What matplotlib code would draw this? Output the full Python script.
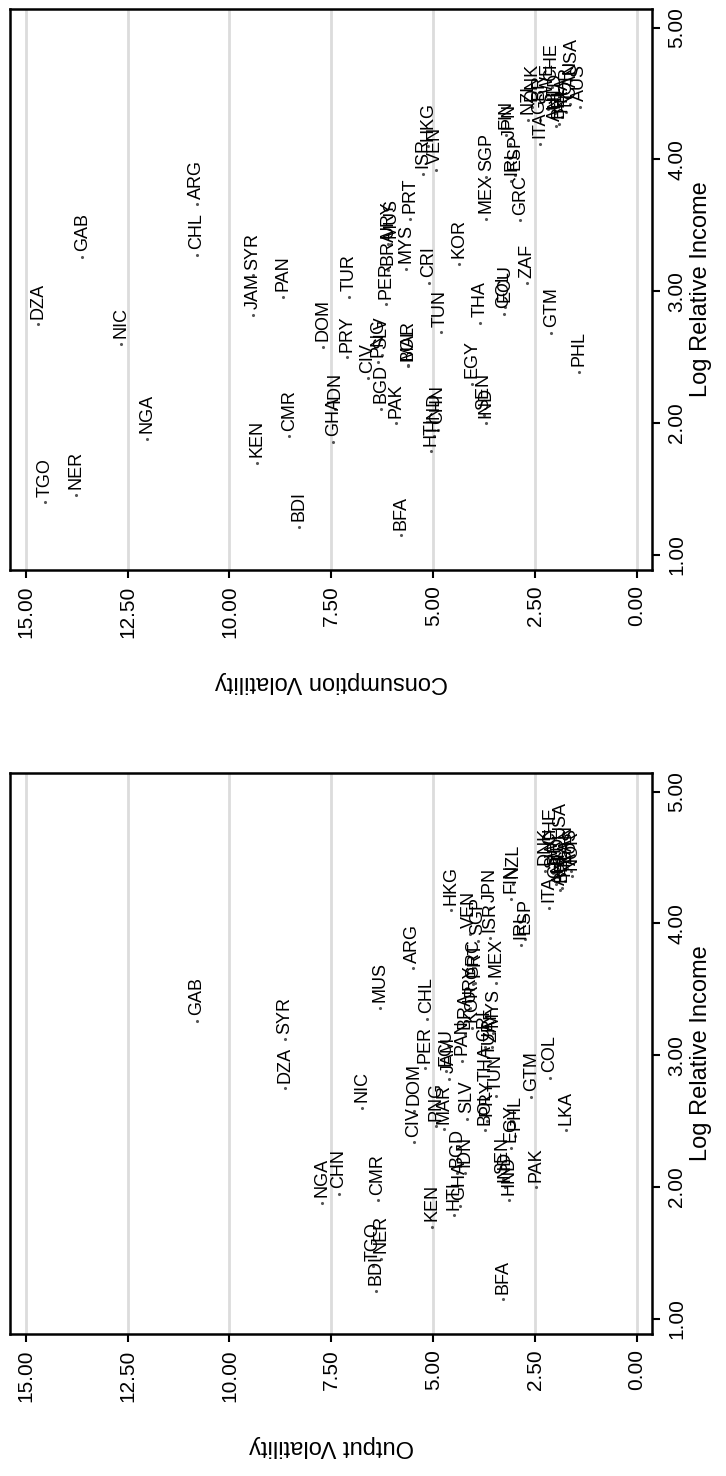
import numpy as np
import matplotlib
matplotlib.use('Agg')
import matplotlib.pyplot as plt

plt.rcParams['font.family'] = 'Liberation Sans'

# country codes, log relative income, consumption volatility, output volatility
paises = ['GAB', 'DZA', 'SYR', 'NIC', 'NGA', 'CHN', 'CMR', 'TGO', 'NER', 'KEN',
          'BDI', 'JAM', 'PAN', 'TUR', 'DOM', 'GHA', 'IDN', 'PRY', 'BFA', 'PHL',
          'GTM', 'HTI', 'HND', 'BGD', 'PAK', 'CIV', 'PNG', 'SLV', 'MAR', 'BOL',
          'PER', 'BRA', 'URY', 'MUS', 'MYS', 'PRT', 'CRI', 'ISR', 'HKG', 'VEN',
          'KOR', 'TUN', 'MEX', 'SGP', 'THA', 'EGY', 'SEN', 'IND', 'ECU', 'COL',
          'ZAF', 'GRC', 'IRL', 'ESP', 'JPN', 'FIN', 'NZL', 'ITA', 'LKA', 'DNK',
          'GBR', 'SWE', 'CHE', 'AUT', 'BEL', 'FRA', 'NLD', 'NOR', 'CAN', 'USA',
          'AUS', 'CHL', 'ARG']

renda = [3.26, 2.75, 3.12, 2.60, 1.88, 1.95, 1.90, 1.40, 1.455, 1.70,
         1.215, 2.82, 2.96, 2.96, 2.58, 1.86, 2.11, 2.50, 1.15, 2.39,
         2.685, 1.785, 1.90, 2.11, 2.00, 2.34, 2.46, 2.52, 2.44, 2.43,
         2.90, 3.16, 3.36, 3.36, 3.17, 3.55, 3.065, 3.89, 4.10, 3.92,
         3.21, 2.69, 3.55, 3.87, 2.76, 2.30, 2.06, 2.00, 2.88, 2.83,
         3.06, 3.54, 3.84, 3.88, 4.12, 4.185, 4.30, 4.12, 2.43, 4.40,
         4.30, 4.38, 4.55, 4.25, 4.27, 4.32, 4.35, 4.36, 4.42, 4.605,
         4.40, 3.275, 3.66]

vol_consumo = [13.61, 14.69, 9.42, 12.66, 12.03, 4.88, 8.53, 14.53, 13.77, 9.32,
               8.29, 9.42, 8.68, 7.07, 7.71, 7.45, 7.41, 7.12, 5.80, 1.43,
               2.10, 5.06, 4.98, 6.27, 5.91, 6.60, 6.36, 6.26, 5.62, 5.61,
               6.15, 6.11, 6.11, 6.03, 5.68, 5.58, 5.11, 5.25, 5.13, 4.94,
               4.37, 4.82, 3.70, 3.70, 3.86, 4.04, 3.76, 3.71, 3.25, 3.27,
               2.69, 2.86, 3.08, 2.99, 3.12, 3.22, 2.67, 2.39, np.nan, 2.58,
               2.38, 2.18, 2.09, 1.99, 1.91, 1.84, 2.01, 1.73, 1.64, 1.62,
               1.41, 10.80, 10.80]

vol_produto = [10.80, 8.64, 8.64, 6.76, 7.72, 7.31, 6.36, 6.48, 6.28, 5.02,
               6.41, 4.61, 4.29, 3.60, 5.46, 4.35, 4.22, 3.68, 3.29, 2.99,
               2.59, 4.49, 3.14, 4.42, 2.47, 5.48, 4.94, 4.17, 4.74, 3.74,
               5.20, 4.22, 4.10, 6.30, 3.53, 3.98, 3.73, 3.61, 4.56, 4.11,
               4.05, 3.46, 3.45, 3.90, 3.70, 3.08, 3.30, 3.24, 4.68, 2.14,
               3.56, 4.02, 2.84, 2.74, 3.61, 3.08, 3.04, 2.17, 1.75, 2.26,
               1.99, 2.06, 2.13, 1.89, 1.84, 1.77, 1.94, 1.60, 1.72, 1.89,
               1.62, 5.15, 5.50]

ticks_vol = [15, 12.5, 10, 7.5, 5, 2.5, 0]
ticks_renda = [1, 2, 3, 4, 5]


def painel(ax, vol, titulo):
    for v in ticks_vol:
        ax.axvline(v, color='#dcdcdc', lw=2, zorder=0)
    x = np.array(vol, dtype=float)
    y = np.array(renda, dtype=float)
    ok = ~np.isnan(x)
    ax.scatter(x[ok], y[ok], s=5, color='#555555', zorder=2, linewidths=0)
    for nome, xi, yi in zip(paises, x, y):
        if np.isnan(xi):
            continue
        ax.annotate(nome, (xi, yi), xytext=(0, 4), textcoords='offset points',
                    rotation=90, ha='center', va='bottom', fontsize=13)
    ax.set_xlim(15.385, -0.368)
    ax.set_ylim(0.886, 5.141)
    ax.set_xticks(ticks_vol)
    ax.set_xticklabels(['%.2f' % t for t in ticks_vol], rotation=90, fontsize=15)
    ax.set_yticks(ticks_renda)
    ax.set_yticklabels(['%.2f' % t for t in ticks_renda], rotation=90,
                       va='center', fontsize=15)
    ax.yaxis.tick_right()
    ax.yaxis.set_label_position('right')
    ax.tick_params(direction='out', length=6, width=1.5, pad=5)
    for s in ax.spines.values():
        s.set_linewidth(1.8)
    ax.set_xlabel(titulo, rotation=180, fontsize=17, labelpad=24)
    ax.set_ylabel('Log Relative Income', rotation=90, fontsize=17, labelpad=3)


fig = plt.figure(figsize=(7.26, 14.76), dpi=100)
ax1 = fig.add_axes([10 / 726, 1 - 570 / 1476, 642 / 726, 561 / 1476])
ax2 = fig.add_axes([10 / 726, 1 - 1334 / 1476, 642 / 726, 561 / 1476])

painel(ax1, vol_consumo, 'Consumption Volatility')
painel(ax2, vol_produto, 'Output Volatility')

fig.savefig('out.png', dpi=100)
